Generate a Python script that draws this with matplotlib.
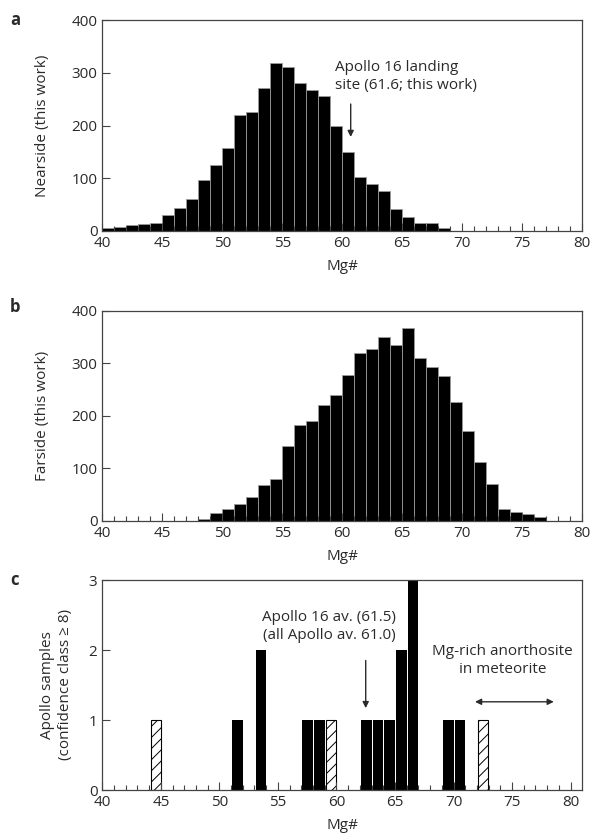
"""Mg# histograms: nearside, farside and Apollo samples (three stacked panels)."""
import matplotlib
matplotlib.use("Agg")
import matplotlib.pyplot as plt
import numpy as np

plt.rcParams["font.family"] = ["Open Sans", "DejaVu Sans"]
plt.rcParams["hatch.linewidth"] = 0.7

INK = "#2a2a2a"
FS = 11

# 1-unit Mg# bins starting at 40
BIN_LEFT = np.arange(40, 80)
NEARSIDE = [5, 8, 11, 13, 15, 30, 44, 61, 96, 126,
            157, 219, 226, 272, 318, 310, 280, 268, 255, 200,
            150, 102, 90, 76, 41, 27, 15, 15, 5, 0,
            0, 0, 0, 0, 0, 0, 0, 0, 0, 0]
FARSIDE = [0, 0, 0, 0, 0, 0, 0, 0, 3, 15,
           22, 32, 45, 68, 80, 143, 183, 190, 220, 239,
           277, 320, 327, 350, 334, 367, 310, 293, 275, 227,
           172, 113, 70, 22, 17, 13, 7, 0, 0, 0]

# Apollo samples, counts per bin
APOLLO_BINS = [51, 53, 57, 58, 62, 63, 64, 65, 66, 69, 70]
APOLLO_COUNTS = [1, 2, 1, 1, 1, 1, 1, 2, 3, 1, 1]
HATCH_BINS = [44, 59, 72]
HATCH_COUNTS = [1, 1, 1]

FIG_W, FIG_H = 595, 839


def frame(ax, xmax):
    ax.set_xlim(40, xmax)
    ax.set_xticks(np.arange(40, 81, 5))
    ax.set_xticks(np.arange(40, 81, 1), minor=True)
    ax.tick_params(axis="both", which="major", direction="in", length=6,
                   width=0.8, color="#444444", labelsize=FS,
                   labelcolor=INK, pad=3.5)
    ax.tick_params(axis="x", which="minor", direction="in", length=3.5,
                   width=0.8, color="#444444")
    for s in ax.spines.values():
        s.set_linewidth(0.9)
        s.set_color("#444444")
    ax.set_xlabel("Mg#", fontsize=FS, color=INK, labelpad=6)


def add_axes(fig, top_px, bottom_px, left_px=102.3, right_px=582.3):
    return fig.add_axes([left_px / FIG_W, 1 - bottom_px / FIG_H,
                         (right_px - left_px) / FIG_W,
                         (bottom_px - top_px) / FIG_H])


def main():
    fig = plt.figure(figsize=(FIG_W / 100, FIG_H / 100), dpi=100)

    # a: nearside
    ax = add_axes(fig, 20, 231)
    ax.bar(BIN_LEFT, NEARSIDE, width=1.0, align="edge", color="black",
           edgecolor="#9a9a9a", linewidth=0.6)
    frame(ax, 80)
    ax.set_ylim(0, 400)
    ax.set_yticks([0, 100, 200, 300, 400])
    ax.set_ylabel("Nearside (this work)", fontsize=FS, color=INK)
    ax.yaxis.set_label_coords(-0.108, 0.5)
    ax.text(59.4, 293, "Apollo 16 landing\nsite (61.6; this work)",
            fontsize=FS, color=INK, ha="left", va="center", linespacing=1.25)
    ax.annotate("", xy=(60.7, 173), xytext=(60.7, 246),
                arrowprops=dict(arrowstyle="-|>", color=INK, lw=1.0,
                                mutation_scale=9))

    # b: farside
    ax = add_axes(fig, 310.7, 521)
    ax.bar(BIN_LEFT, FARSIDE, width=1.0, align="edge", color="black",
           edgecolor="#9a9a9a", linewidth=0.6)
    frame(ax, 80)
    ax.set_ylim(0, 400)
    ax.set_yticks([0, 100, 200, 300, 400])
    ax.set_ylabel("Farside (this work)", fontsize=FS, color=INK)
    ax.yaxis.set_label_coords(-0.108, 0.5)

    # c: Apollo samples
    ax = add_axes(fig, 580, 790)
    ax.bar(np.array(APOLLO_BINS) + 0.55, APOLLO_COUNTS, width=0.9,
           color="black", linewidth=0)
    ax.bar(np.array(HATCH_BINS) + 0.55, HATCH_COUNTS, width=0.85,
           color="white", edgecolor="black", linewidth=0.8, hatch="///")
    frame(ax, 81)
    ax.set_ylim(0, 3)
    ax.set_yticks([0, 1, 2, 3])
    ax.set_ylabel("Apollo samples\n(confidence class \u2265 8)", fontsize=FS,
                  color=INK, linespacing=1.25)
    ax.yaxis.set_label_coords(-0.062, 0.5)
    ax.text(59.4, 2.34, "Apollo 16 av. (61.5)\n(all Apollo av. 61.0)",
            fontsize=FS, color=INK, ha="center", va="center",
            multialignment="center", linespacing=1.25)
    ax.annotate("", xy=(62.5, 1.13), xytext=(62.5, 1.89),
                arrowprops=dict(arrowstyle="-|>", color=INK, lw=1.0,
                                mutation_scale=9))
    ax.text(74.2, 1.85, "Mg-rich anorthosite\nin meteorite",
            fontsize=FS, color=INK, ha="center", va="center",
            multialignment="center", linespacing=1.25)
    ax.annotate("", xy=(78.8, 1.26), xytext=(71.6, 1.26),
                arrowprops=dict(arrowstyle="<|-|>", color=INK, lw=1.0,
                                mutation_scale=9))

    for letter, y_px in (("a", 20), ("b", 307), ("c", 580)):
        fig.text(10 / FIG_W, 1 - y_px / FIG_H, letter, fontsize=12,
                 fontweight="bold", color=INK, ha="left", va="center")

    fig.savefig("out.png", dpi=100)
    plt.close(fig)


if __name__ == "__main__":
    main()
